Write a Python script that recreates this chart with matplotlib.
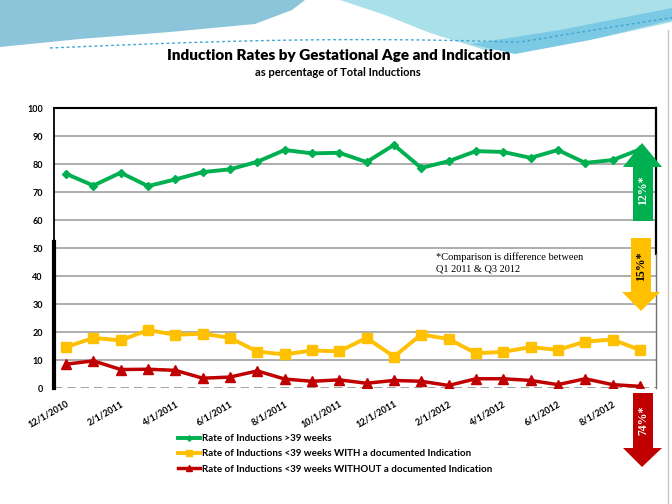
import matplotlib
matplotlib.use('Agg')
import matplotlib.pyplot as plt
from matplotlib.patches import Polygon
import numpy as np

# ---------------- data ----------------
months = ['12/1/2010', '1/1/2011', '2/1/2011', '3/1/2011', '4/1/2011', '5/1/2011',
          '6/1/2011', '7/1/2011', '8/1/2011', '9/1/2011', '10/1/2011', '11/1/2011',
          '12/1/2011', '1/1/2012', '2/1/2012', '3/1/2012', '4/1/2012', '5/1/2012',
          '6/1/2012', '7/1/2012', '8/1/2012', '9/1/2012']
over39 = [76.5, 72.3, 76.9, 72.1, 74.5, 77.1, 78.1, 80.8, 85.0, 83.8, 84.0, 80.7,
          86.8, 78.6, 81.0, 84.6, 84.3, 82.2, 85.0, 80.4, 81.4, 85.2]
under39_with = [14.6, 17.9, 17.0, 20.7, 19.0, 19.4, 17.9, 13.0, 12.0, 13.4, 13.1, 17.9,
                11.2, 19.1, 17.5, 12.4, 12.9, 14.6, 13.6, 16.6, 17.3, 13.6]
under39_without = [8.5, 9.7, 6.6, 6.7, 6.3, 3.5, 3.9, 6.1, 3.2, 2.4, 2.9, 1.7,
                   2.7, 2.4, 0.9, 3.3, 3.3, 2.7, 1.2, 3.3, 1.2, 0.6]
series_labels = ['Rate of Inductions >39 weeks',
                 'Rate of Inductions <39 weeks WITH a documented Indication',
                 'Rate of Inductions <39 weeks WITHOUT a documented Indication']
yticks = [0, 10, 20, 30, 40, 50, 60, 70, 80, 90, 100]
change_labels = ['12%*', '15%*', '74%*']

GREEN, YELLOW, RED = '#00B050', '#FFC000', '#C00000'

W, H = 672, 504
fig = plt.figure(figsize=(6.72, 5.04), dpi=100)
fig.patch.set_facecolor('white')

def fx(x):
    return x / W

def fy(y):
    return 1 - y / H

# ---------------- header decoration ----------------
bg = fig.add_axes([0, 0, 1, 1], zorder=-5)
bg.set_xlim(0, W)
bg.set_ylim(H, 0)
bg.axis('off')
bg.add_patch(Polygon([(0, 0), (305, 0), (292, 10), (255, 24), (170, 32), (80, 39), (0, 47)],
                     closed=True, color='#8cc4d9', lw=0))
bg.add_patch(Polygon([(340, 0), (672, 0), (672, 22), (600, 38), (530, 50), (485, 50),
                      (430, 33), (385, 15)], closed=True, color='#a9e0ea', lw=0))
bg.add_patch(Polygon([(470, 44), (560, 30), (672, 8), (672, 20), (590, 40), (515, 54)],
                     closed=True, color='#7cc9e4', lw=0))
cx = np.linspace(50, 672, 60)
cy = 48 - 14 * np.sin((cx - 50) / 622 * np.pi) * 0.6 + np.where(cx > 520, -(cx - 520) * 0.2, 0)
bg.plot(cx, cy, color='#3ea6d4', lw=1, ls=(0, (2, 2)))
bg.plot([668, 668], [30, 504], color='#c8c8c8', lw=1)

# ---------------- main axes ----------------
ax = fig.add_axes([fx(54), fy(388), fx(656) - fx(54), fy(108) - fy(388)], zorder=1)
x = np.arange(len(months))
ax.set_xlim(-0.44, 21.59)
ax.set_ylim(0, 100)

for v in yticks[1:-1]:
    ax.axhline(v, color='#a0a0a0', lw=1.2, zorder=1)
ax.axhline(0, color='#909090', lw=1.2, ls=(0, (5, 3)), zorder=1)

for s in ax.spines.values():
    s.set_visible(False)
ax.plot([0, 1], [1, 1], transform=ax.transAxes, color='black', lw=1.5, clip_on=False)
ax.plot([0, 0], [0.52, 1], transform=ax.transAxes, color='black', lw=1.3, clip_on=False)
ax.plot([0, 0], [0, 0.52], transform=ax.transAxes, color='black', lw=3, clip_on=False)
ax.plot([1, 1], [0.48, 1], transform=ax.transAxes, color='black', lw=1.6, clip_on=False)
ax.plot([1, 1], [0, 0.48], transform=ax.transAxes, color='#707070', lw=1, clip_on=False)

l1, = ax.plot(x, over39, color=GREEN, lw=2.8, marker='D', ms=4, zorder=3)
l2, = ax.plot(x, under39_with, color=YELLOW, lw=2.8, marker='s', ms=7, zorder=3)
l3, = ax.plot(x, under39_without, color=RED, lw=2.5, marker='^', ms=6.5, zorder=3)

ax.set_yticks(yticks)
ax.set_yticklabels([str(v) for v in yticks], fontsize=6.5, fontweight='bold', family='Lato')
ax.set_xticks(x[::2])
ax.set_xticklabels(months[::2], rotation=30, ha='right', rotation_mode='anchor',
                   fontsize=6.5, fontweight='bold', family='Lato')
ax.tick_params(axis='both', length=0)
ax.tick_params(axis='y', pad=8)
ax.tick_params(axis='x', pad=8)

# ---------------- titles ----------------
fig.text(fx(339), fy(56), 'Induction Rates by Gestational Age and Indication', ha='center',
         va='center', fontsize=11, fontweight='heavy', family='Lato')
fig.text(fx(338), fy(73), 'as percentage of Total Inductions', ha='center', va='center',
         fontsize=8, fontweight='bold', family='Lato')

# ---------------- note ----------------
fig.text(fx(436), fy(252), '*Comparison is difference between\nQ1 2011 & Q3 2012',
         ha='left', va='top', fontsize=7.5, family='Liberation Serif', linespacing=1.35)

# ---------------- arrows ----------------
def arrow(xl, xr, base, hl, hr, hb, tip_x, tip, color):
    pts = [(xl, base), (xl, hb), (hl, hb), (tip_x, tip), (hr, hb), (xr, hb), (xr, base)]
    fig.add_artist(Polygon([(fx(a), fy(b)) for a, b in pts], closed=True,
                           facecolor=color, edgecolor='none', transform=fig.transFigure,
                           zorder=5))

arrow(633, 653, 221, 623, 662, 167, 642, 143, GREEN)
arrow(631, 651, 238, 622, 660, 292, 641, 311, YELLOW)
arrow(633, 653, 393, 623, 662, 448, 642, 467, RED)
fig.text(fx(643), fy(190), change_labels[0], rotation=90, ha='center', va='center',
         color='white', fontsize=8.5, fontweight='bold', family='Liberation Serif', zorder=6)
fig.text(fx(641), fy(266), change_labels[1], rotation=90, ha='center', va='center',
         color='black', fontsize=8.5, fontweight='bold', family='Liberation Serif', zorder=6)
fig.text(fx(643), fy(420), change_labels[2], rotation=90, ha='center', va='center',
         color='white', fontsize=8.5, fontweight='bold', family='Liberation Serif', zorder=6)

# ---------------- legend ----------------
fig.legend([l1, l2, l3], series_labels, loc='upper left', bbox_to_anchor=(fx(178), fy(434)),
           frameon=False, prop={'family': 'Lato', 'weight': 'bold', 'size': 7},
           handlelength=2.3, handletextpad=0.2, labelspacing=0.65, borderpad=0,
           borderaxespad=0, markerscale=0.7)

fig.savefig('out.png', dpi=100)
